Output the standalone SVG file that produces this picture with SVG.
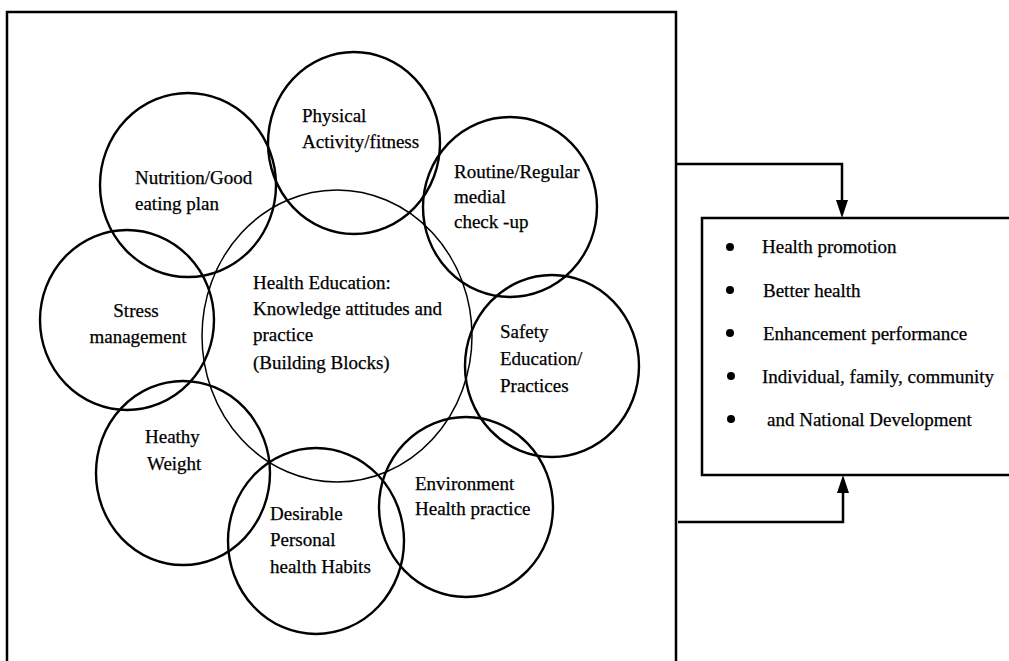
<svg xmlns="http://www.w3.org/2000/svg" width="1009" height="661" viewBox="0 0 1009 661">
<defs>
<style>
.c{fill:none;stroke:#000;stroke-width:2.4}
.ci{fill:none;stroke:#000;stroke-width:1.5}
.b{fill:none;stroke:#000;stroke-width:2.5}
text{font-family:"Liberation Serif","Times New Roman",serif;font-size:19px;fill:#000;stroke:#000;stroke-width:0.25}
.ln{fill:none;stroke:#000;stroke-width:2.5}
</style>
</defs>
<rect width="1009" height="661" fill="#fff"/>
<g id="outer-box"><path class="b" d="M7,665 V12 H676 V665"/></g>
<g id="center"><ellipse class="ci" cx="337" cy="336" rx="135" ry="146"/>
<text x="253" y="289">Health Education:</text>
<text x="253" y="315">Knowledge attitudes and</text>
<text x="253" y="341">practice</text>
<text x="253" y="369">(Building Blocks)</text></g>
<g id="physical"><ellipse class="c" cx="354" cy="143" rx="86" ry="91"/>
<text x="302" y="122">Physical</text><text x="302" y="148">Activity/fitness</text></g>
<g id="nutrition"><ellipse class="c" cx="188" cy="185" rx="88" ry="92"/>
<text x="135" y="184">Nutrition/Good</text><text x="135" y="210">eating plan</text></g>
<g id="routine"><ellipse class="c" cx="510" cy="207" rx="87" ry="90"/>
<text x="454" y="178">Routine/Regular</text><text x="454" y="203">medial</text><text x="454" y="228">check -up</text></g>
<g id="stress"><ellipse class="c" cx="127" cy="320" rx="87" ry="90"/>
<text x="136" y="317" text-anchor="middle">Stress</text><text x="138" y="343" text-anchor="middle">management</text></g>
<g id="safety"><ellipse class="c" cx="552" cy="366" rx="87" ry="91"/>
<text x="500" y="338">Safety</text><text x="500" y="365">Education/</text><text x="500" y="392">Practices</text></g>
<g id="weight"><ellipse class="c" cx="183" cy="473" rx="87" ry="92"/>
<text x="145" y="443">Heathy</text><text x="147" y="470">Weight</text></g>
<g id="environment"><ellipse class="c" cx="466" cy="507" rx="87" ry="90"/>
<text x="415" y="490">Environment</text><text x="415" y="515">Health practice</text></g>
<g id="desirable"><ellipse class="c" cx="316" cy="541" rx="88" ry="93"/>
<text x="270" y="520">Desirable</text><text x="270" y="546">Personal</text><text x="270" y="573">health Habits</text></g>
<g id="outcomes"><path class="b" d="M1012,218 H702 V475 H1012"/>
<circle cx="730" cy="247" r="4"/><text x="762" y="253">Health promotion</text>
<circle cx="730" cy="290" r="4"/><text x="763" y="297">Better health</text>
<circle cx="730" cy="333" r="4"/><text x="763" y="340">Enhancement performance</text>
<circle cx="731" cy="376" r="4"/><text x="762" y="383">Individual, family, community</text>
<circle cx="731" cy="419" r="4"/><text x="767" y="426">and National Development</text></g>
<g id="connectors">
<path class="ln" d="M676,164 H842 V201"/>
<path d="M836,200 L848,200 L842,218 Z" fill="#000"/>
<path class="ln" d="M678,522 H843 V492"/>
<path d="M837,493 L849,493 L843,475 Z" fill="#000"/>
</g>
</svg>
